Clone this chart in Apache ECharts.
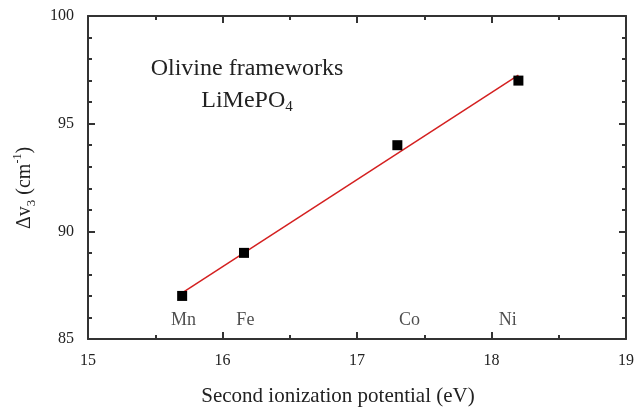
<!DOCTYPE html>
<html>
<head>
<meta charset="utf-8">
<script src="https://cdn.jsdelivr.net/npm/echarts@6/dist/echarts.min.js"></script>
<style>html,body{margin:0;padding:0;background:#fff;}#c{width:637px;height:407px;}</style>
</head>
<body>
<div id="c"></div>
<script>
// Data
var ionization = [15.70, 16.16, 17.30, 18.20];   // eV
var deltaNu = [87, 89, 94, 97];                  // cm^-1
var elements = ['Mn', 'Fe', 'Co', 'Ni'];
var elementLabelX = [15.71, 16.17, 17.39, 18.12];
var elementLabelY = [85.85, 85.85, 85.85, 85.85];
var fitX = [15.70, 18.20];
var fitY = [87.14, 97.25];
var xTicks = [15, 16, 17, 18, 19];
var yTicks = [85, 90, 95, 100];

var FONT = '"Liberation Serif", "DejaVu Serif", serif';
var AX = '#333';

var chart = echarts.init(document.getElementById('c'), null, {renderer: 'canvas'});

function axisCommon(extra) {
  var base = {
    axisLine: {show: true, onZero: false, lineStyle: {color: AX, width: 2}},
    axisTick: {show: true, inside: true, length: 7, lineStyle: {color: AX, width: 2}},
    minorTick: {show: true, length: 4, lineStyle: {color: AX, width: 2}},
    splitLine: {show: false},
    minorSplitLine: {show: false}
  };
  for (var k in extra) base[k] = extra[k];
  return base;
}

var option = {
  animation: false,
  backgroundColor: '#fff',
  grid: {left: 88, right: 9, top: 16, bottom: 68},
  xAxis: [
    axisCommon({
      type: 'value', position: 'bottom', min: xTicks[0], max: xTicks[xTicks.length - 1], interval: 1,
      minorTick: {show: true, splitNumber: 2, length: 4, lineStyle: {color: AX, width: 2}},
      axisLabel: {show: true, margin: 14, color: '#222', fontFamily: FONT, fontSize: 16}
    }),
    axisCommon({
      type: 'value', position: 'top', min: xTicks[0], max: xTicks[xTicks.length - 1], interval: 1,
      minorTick: {show: true, splitNumber: 2, length: 4, lineStyle: {color: AX, width: 2}},
      axisLabel: {show: false}
    })
  ],
  yAxis: [
    axisCommon({
      type: 'value', position: 'left', min: yTicks[0], max: yTicks[yTicks.length - 1], interval: 5,
      minorTick: {show: true, splitNumber: 5, length: 4, lineStyle: {color: AX, width: 2}},
      axisLabel: {show: true, margin: 14, color: '#222', fontFamily: FONT, fontSize: 16}
    }),
    axisCommon({
      type: 'value', position: 'right', min: yTicks[0], max: yTicks[yTicks.length - 1], interval: 5,
      minorTick: {show: true, splitNumber: 5, length: 4, lineStyle: {color: AX, width: 2}},
      axisLabel: {show: false}
    })
  ],
  series: [
    {
      type: 'line',
      data: fitX.map(function (x, i) { return [x, fitY[i]]; }),
      showSymbol: false,
      symbol: 'none',
      lineStyle: {color: '#d42020', width: 1.5},
      z: 2
    },
    {
      type: 'scatter',
      data: ionization.map(function (x, i) { return [x, deltaNu[i]]; }),
      symbol: 'rect',
      symbolSize: 10,
      itemStyle: {color: '#000', opacity: 1},
      z: 3
    },
    {
      type: 'scatter',
      data: elementLabelX.map(function (x, i) { return {value: [x, elementLabelY[i]], name: elements[i]}; }),
      symbolSize: 0,
      silent: true,
      label: {
        show: true, position: 'inside', formatter: '{b}',
        color: '#222', fontFamily: FONT, fontSize: 18
      }
    }
  ],
  graphic: [
    {
      type: 'text', x: 247, y: 69,
      style: {text: 'Olivine frameworks', fill: '#222', font: '24px ' + FONT, align: 'center', verticalAlign: 'middle'}
    },
    {
      type: 'text', x: 247, y: 101,
      style: {
        text: '{a|LiMePO}{s|4}', align: 'center', verticalAlign: 'middle',
        rich: {
          a: {fontFamily: FONT, fontSize: 24, fill: '#222', color: '#222', lineHeight: 28, verticalAlign: 'middle'},
          s: {fontFamily: FONT, fontSize: 15, fill: '#222', color: '#222', lineHeight: 15, verticalAlign: 'bottom'}
        }
      }
    },
    {
      type: 'text', x: 338, y: 396,
      style: {text: 'Second ionization potential (eV)', fill: '#222', font: '21px ' + FONT, align: 'center', verticalAlign: 'middle'}
    },
    {
      type: 'text', x: 25, y: 188, rotation: Math.PI / 2,
      style: {
        text: '{a|Δv}{s|3}{a| (cm}{p|-1}{a|)}', align: 'center', verticalAlign: 'middle',
        rich: {
          a: {fontFamily: FONT, fontSize: 20, fill: '#222', color: '#222', lineHeight: 26, verticalAlign: 'middle'},
          s: {fontFamily: FONT, fontSize: 13, fill: '#222', color: '#222', lineHeight: 13, verticalAlign: 'bottom'},
          p: {fontFamily: FONT, fontSize: 12, fill: '#222', color: '#222', lineHeight: 12, verticalAlign: 'top'}
        }
      }
    }
  ]
};
chart.setOption(option);
</script>
</body>
</html>
